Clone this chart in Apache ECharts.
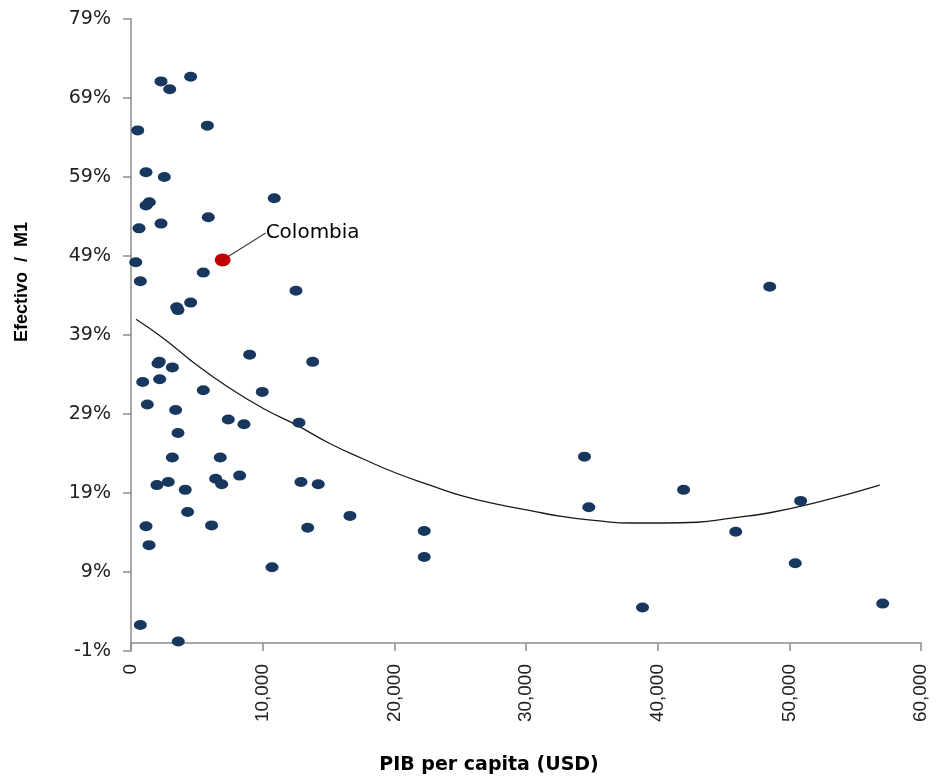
<!DOCTYPE html>
<html>
<head>
<meta charset="utf-8">
<script src="https://cdn.jsdelivr.net/npm/echarts@6/dist/echarts.min.js"></script>
<style>
html,body{margin:0;padding:0;background:#fff;}
#chart{width:939px;height:778px;}
</style>
</head>
<body>
<div id="chart"></div>
<script>
// PIB per capita (USD) of each country
const pibPerCapita = [2280, 4530, 2940, 5800, 510, 1140, 2530, 10880, 1390, 1140,
  2280, 5870, 610, 360, 5490, 710, 12530, 4530, 3470, 3570,
  2150, 2050, 9010, 13800, 3140, 890, 2180, 5490, 9970, 1240,
  3390, 7390, 8580, 12760, 3570, 3140, 6780, 8250, 6430, 6890,
  2830, 1970, 4120, 12910, 14220, 4300, 1140, 6120, 13420, 1370,
  10710, 710, 3590, 16630, 22270, 22270, 48510, 34440, 34770, 41970,
  50860, 45930, 50450, 38850, 57090];
// Efectivo / M1 (%) of each country
const efectivoM1 = [71.1, 71.7, 70.1, 65.5, 64.9, 59.6, 59.0, 56.3, 55.8, 55.4,
  53.1, 53.9, 52.5, 48.2, 46.9, 45.8, 44.6, 43.1, 42.5, 42.15,
  35.6, 35.4, 36.5, 35.6, 34.9, 33.05, 33.4, 32.0, 31.8, 30.2,
  29.5, 28.3, 27.7, 27.9, 26.6, 23.5, 23.5, 21.2, 20.8, 20.1,
  20.4, 20.0, 19.4, 20.4, 20.1, 16.6, 14.8, 14.9, 14.6, 12.4,
  9.6, 2.3, 0.2, 16.1, 14.2, 10.9, 45.1, 23.6, 17.2, 19.4,
  18.0, 14.1, 10.1, 4.5, 5.0];
// Colombia
const colombiaName = 'Colombia';
const colombiaPib = 6960;
const colombiaEfectivo = 48.5;
// Trend curve
const trendPib = [380, 2450, 4990, 7520, 10050, 12580, 15060, 17640, 20170, 22700,
  25230, 27770, 30240, 32820, 35360, 38000, 40500, 43000, 45480, 48520, 52310, 56870];
const trendEfectivo = [41.0, 38.6, 35.2, 32.25, 29.7, 27.6, 25.3, 23.3, 21.5, 20.0,
  18.6, 17.6, 16.8, 16.0, 15.5, 15.2, 15.2, 15.3, 15.8, 16.5, 17.9, 20.0];
// Axis ticks
const xTicks = [0, 10000, 20000, 30000, 40000, 50000, 60000];
const yTicks = [-1, 9, 19, 29, 39, 49, 59, 69, 79];
const xTitle = 'PIB per capita (USD)';
const yTitle = 'Efectivo  /  M1';

const FONT = 'DejaVu Sans';
const FONT_NARROW = 'Liberation Sans';
const chart = echarts.init(document.getElementById('chart'), null, {renderer: 'canvas'});

const countries = pibPerCapita.map((x, i) => [x, efectivoM1[i]]);
const trend = trendPib.map((x, i) => [x, trendEfectivo[i]]);

chart.setOption({
  animation: false,
  backgroundColor: '#ffffff',
  grid: {left: 131, right: 18, top: 19, bottom: 127, containLabel: false},
  xAxis: {
    type: 'value',
    min: xTicks[0], max: xTicks[xTicks.length - 1],
    interval: xTicks[1] - xTicks[0],
    axisLine: {show: true, lineStyle: {color: '#8c8c8c', width: 1.5}},
    axisTick: {show: true, length: 8, lineStyle: {color: '#8c8c8c', width: 1.5}},
    splitLine: {show: false},
    axisLabel: {
      rotate: 90, margin: 13, fontFamily: FONT_NARROW, fontSize: 19, color: '#222',
      formatter: v => v.toLocaleString('en-US')
    }
  },
  yAxis: {
    type: 'value',
    min: yTicks[0], max: yTicks[yTicks.length - 1],
    interval: yTicks[1] - yTicks[0],
    axisLine: {show: true, lineStyle: {color: '#8c8c8c', width: 1.5}},
    axisTick: {show: true, length: 8, lineStyle: {color: '#8c8c8c', width: 1.5}},
    splitLine: {show: false},
    axisLabel: {
      margin: 20, fontFamily: FONT, fontSize: 19, color: '#222',
      formatter: v => v + '%'
    }
  },
  graphic: [
    {type: 'text', x: 489, y: 765,
     style: {text: xTitle, font: 'bold 19px "' + FONT + '"', fill: '#000', textAlign: 'center', textVerticalAlign: 'middle'}},
    {type: 'text', x: 22, y: 282, rotation: Math.PI / 2,
     style: {text: yTitle, font: 'bold 18px "' + FONT_NARROW + '"', fill: '#000', textAlign: 'center', textVerticalAlign: 'middle'}}
  ],
  series: [
    {
      type: 'line', data: trend, smooth: true, showSymbol: false, silent: true,
      lineStyle: {color: '#1a1a1a', width: 1.3}, z: 1
    },
    {
      type: 'scatter', data: countries, symbol: 'circle', symbolSize: [13, 10],
      itemStyle: {color: '#17375e', opacity: 1}, z: 2
    },
    {
      type: 'scatter', data: [[colombiaPib, colombiaEfectivo]], symbol: 'circle', symbolSize: [16, 13],
      itemStyle: {color: '#c00000', opacity: 1}, z: 3,
      label: {show: true, position: 'right', formatter: colombiaName, fontFamily: FONT, fontSize: 20, color: '#000'},
      labelLayout: {dx: 30, dy: -27},
      labelLine: {show: true, lineStyle: {color: '#444', width: 1.3, opacity: 1}}
    }
  ]
});
</script>
</body>
</html>
